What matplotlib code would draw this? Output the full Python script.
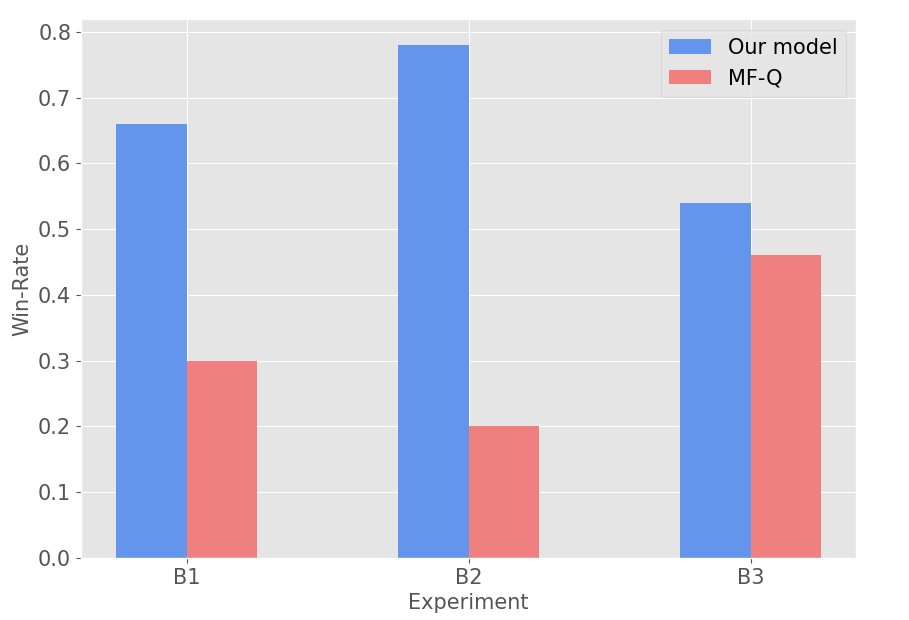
import matplotlib
matplotlib.use("Agg")
import matplotlib.pyplot as plt
import numpy as np

plt.style.use("ggplot")

categories = ["B1", "B2", "B3"]
our_model = [0.66, 0.78, 0.54]
mfq = [0.30, 0.20, 0.46]

fig = plt.figure(figsize=(9.09, 6.2), dpi=100)
ax = fig.add_axes([0.089, 0.1, 0.853, 0.869])
x = np.arange(len(categories))
w = 0.25
ax.bar(x - w/2, our_model, w, color="cornflowerblue", label="Our model")
ax.bar(x + w/2, mfq, w, color="lightcoral", label="MF-Q")
ax.set_xticks(x)
ax.set_xticklabels(categories)
ax.tick_params(labelsize=15)
ax.set_xlabel("Experiment", fontsize=15)
ax.set_ylabel("Win-Rate", fontsize=15)
ax.legend(fontsize=15)
fig.savefig("out.png", dpi=100)
